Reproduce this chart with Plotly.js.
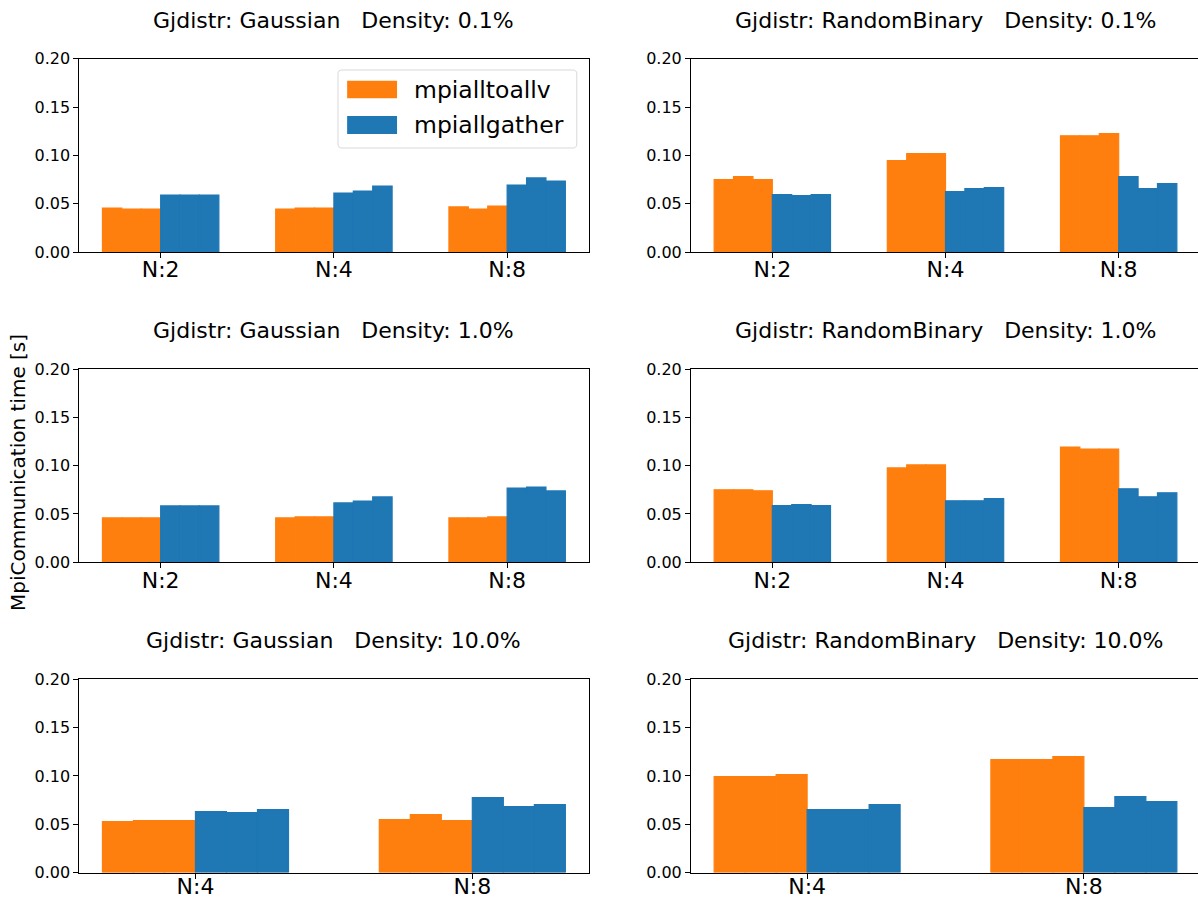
<!DOCTYPE html>
<html>
<head>
<meta charset="utf-8">
<script src="https://cdn.plot.ly/plotly-3.0.1.min.js"></script>
<style>
  html, body { margin: 0; padding: 0; overflow: hidden; background: #ffffff; }
  #chart { width: 1201px; height: 902px; }
</style>
</head>
<body>
<div id="chart"></div>
<script>
// Node-count categories per row
const nodesSmall = ['N:2', 'N:4', 'N:8'];
const nodesLarge = ['N:4', 'N:8'];

const methods = ['mpialltoallv', 'mpiallgather'];
const methodColors = ['#ff7f0e', '#1f77b4'];

// MPI communication time [s]: one row per node count, three runs per row
const gaussian01Alltoallv = [[0.0455, 0.0445, 0.0445], [0.0445, 0.0455, 0.0455], [0.0466, 0.0445, 0.0476]];
const gaussian01Allgather = [[0.0590, 0.0590, 0.0590], [0.0610, 0.0631, 0.0683], [0.0693, 0.0766, 0.0734]];

const binary01Alltoallv = [[0.0748, 0.0779, 0.0748], [0.0945, 0.1017, 0.1017], [0.1203, 0.1203, 0.1224]];
const binary01Allgather = [[0.0593, 0.0583, 0.0593], [0.0624, 0.0655, 0.0666], [0.0779, 0.0655, 0.0707]];

const gaussian1Alltoallv = [[0.0459, 0.0459, 0.0459], [0.0459, 0.0469, 0.0469], [0.0459, 0.0459, 0.0469]];
const gaussian1Allgather = [[0.0583, 0.0583, 0.0583], [0.0614, 0.0634, 0.0676], [0.0769, 0.0779, 0.0738]];

const binary1Alltoallv = [[0.0750, 0.0750, 0.0740], [0.0976, 0.1007, 0.1007], [0.1192, 0.1171, 0.1171]];
const binary1Allgather = [[0.0586, 0.0596, 0.0586], [0.0637, 0.0637, 0.0658], [0.0760, 0.0678, 0.0719]];

const gaussian10Alltoallv = [[0.0528, 0.0538, 0.0538], [0.0548, 0.0600, 0.0538]];
const gaussian10Allgather = [[0.0631, 0.0621, 0.0652], [0.0776, 0.0683, 0.0703]];

const binary10Alltoallv = [[0.0993, 0.0993, 0.1014], [0.1169, 0.1169, 0.1200]];
const binary10Allgather = [[0.0652, 0.0652, 0.0703], [0.0672, 0.0786, 0.0734]];

const panelTitles = [
  'Gjdistr: Gaussian   Density: 0.1%',
  'Gjdistr: RandomBinary   Density: 0.1%',
  'Gjdistr: Gaussian   Density: 1.0%',
  'Gjdistr: RandomBinary   Density: 1.0%',
  'Gjdistr: Gaussian   Density: 10.0%',
  'Gjdistr: RandomBinary   Density: 10.0%'
];

const panels = [
  { title: panelTitles[0], nodes: nodesSmall, series: [gaussian01Alltoallv, gaussian01Allgather] },
  { title: panelTitles[1], nodes: nodesSmall, series: [binary01Alltoallv, binary01Allgather] },
  { title: panelTitles[2], nodes: nodesSmall, series: [gaussian1Alltoallv, gaussian1Allgather] },
  { title: panelTitles[3], nodes: nodesSmall, series: [binary1Alltoallv, binary1Allgather] },
  { title: panelTitles[4], nodes: nodesLarge, series: [gaussian10Alltoallv, gaussian10Allgather] },
  { title: panelTitles[5], nodes: nodesLarge, series: [binary10Alltoallv, binary10Allgather] }
];

// Page geometry in pixels
const W = 1201, H = 902;
const colX = [[79.3, 588.5], [691, 1200]];
const rowY = [[58.7, 252], [369, 562.3], [679.3, 872.6]];
const rowLabelShift = [-7, -7, -11];
const FONT = 'DejaVu Sans, sans-serif';

const groupWidth = 0.672; // six bars side by side, no gap between them

const traces = [];
const layout = {
  width: W, height: H,
  margin: { l: 0, r: 0, t: 0, b: 0 },
  paper_bgcolor: '#ffffff', plot_bgcolor: '#ffffff',
  font: { family: FONT, color: '#000000' },
  showlegend: false,
  barmode: 'group',
  bargap: 1 - groupWidth,
  bargroupgap: 0,
  annotations: [],
  shapes: []
};

panels.forEach((p, i) => {
  const suf = i === 0 ? '' : String(i + 1);
  const col = i % 2, row = Math.floor(i / 2);
  const xd = [colX[col][0] / W, Math.min(1, colX[col][1] / W)];
  const yd = [1 - rowY[row][1] / H, 1 - rowY[row][0] / H];

  p.series.forEach((runs, m) => {
    for (let k = 0; k < 3; k++) {
      traces.push({
        type: 'bar',
        name: methods[m],
        x: p.nodes,
        y: runs.map(r => r[k]),
        xaxis: 'x' + suf,
        yaxis: 'y' + suf,
        marker: { color: methodColors[m], line: { width: 1.2, color: methodColors[m] } },
        hoverinfo: 'skip'
      });
    }
  });

  const n = p.nodes.length;
  const pad = 0.05 * (n - 1 + groupWidth);
  const half = groupWidth / 2;

  layout['xaxis' + suf] = {
    domain: xd, anchor: 'y' + suf,
    type: 'category',
    range: [-half - pad, n - 1 + half + pad],
    showline: true, mirror: true, linecolor: '#000000', linewidth: 1,
    ticks: 'outside', ticklen: 5, tickwidth: 1, tickcolor: '#000000',
    ticklabelstandoff: rowLabelShift[row],
    tickfont: { family: FONT, size: 22, color: '#000000' },
    showgrid: false, zeroline: false, fixedrange: true
  };
  layout['yaxis' + suf] = {
    domain: yd, anchor: 'x' + suf,
    range: [0, 0.2],
    tickmode: 'array', tickvals: [0, 0.05, 0.1, 0.15, 0.2],
    tickformat: '.2f',
    showline: true, mirror: true, linecolor: '#000000', linewidth: 1,
    ticks: 'outside', ticklen: 5, tickwidth: 1, tickcolor: '#000000',
    tickfont: { family: FONT, size: 16, color: '#000000' },
    showgrid: false, zeroline: false, fixedrange: true
  };

  layout.annotations.push({
    text: p.title.replace(/ /g, '\u00a0'),
    xref: 'x' + suf + ' domain', yref: 'y' + suf + ' domain',
    x: 0.5, y: 1.2, xanchor: 'center', yanchor: 'middle',
    showarrow: false,
    font: { family: FONT, size: 22, color: '#000000' }
  });
});

// Shared y-axis label
layout.annotations.push({
  text: 'MpiCommunication time [s]',
  xref: 'paper', yref: 'paper',
  x: 18 / W, y: 1 - 473 / H,
  xanchor: 'center', yanchor: 'middle',
  textangle: -90, showarrow: false,
  font: { family: FONT, size: 20, color: '#000000' }
});

// Legend box drawn inside the first panel
const lx0 = 0.508, lx1 = 0.977, ly0 = 0.538, ly1 = 0.9415;
const rx = 4 / 509, ry = 4 / 193;
layout.shapes.push({
  type: 'path', xref: 'x domain', yref: 'y domain',
  path: `M ${lx0 + rx},${ly0} L ${lx1 - rx},${ly0} Q ${lx1},${ly0} ${lx1},${ly0 + ry} ` +
        `L ${lx1},${ly1 - ry} Q ${lx1},${ly1} ${lx1 - rx},${ly1} ` +
        `L ${lx0 + rx},${ly1} Q ${lx0},${ly1} ${lx0},${ly1 - ry} ` +
        `L ${lx0},${ly0 + ry} Q ${lx0},${ly0} ${lx0 + rx},${ly0} Z`,
  fillcolor: 'rgba(255,255,255,0.8)',
  line: { color: '#d9d9d9', width: 1 }
});
const legendRows = [[0.795, 0.886], [0.6104, 0.7036]];
methods.forEach((name, m) => {
  layout.shapes.push({
    type: 'rect', xref: 'x domain', yref: 'y domain',
    x0: 0.526, x1: 0.624, y0: legendRows[m][0], y1: legendRows[m][1],
    fillcolor: methodColors[m], line: { width: 0 }
  });
  layout.annotations.push({
    text: name,
    xref: 'x domain', yref: 'y domain',
    x: 0.654, y: (legendRows[m][0] + legendRows[m][1]) / 2,
    xanchor: 'left', yanchor: 'middle', showarrow: false,
    font: { family: FONT, size: 23.5, color: '#000000' }
  });
});

Plotly.newPlot('chart', traces, layout, { staticPlot: true, displayModeBar: false });
</script>
</body>
</html>
